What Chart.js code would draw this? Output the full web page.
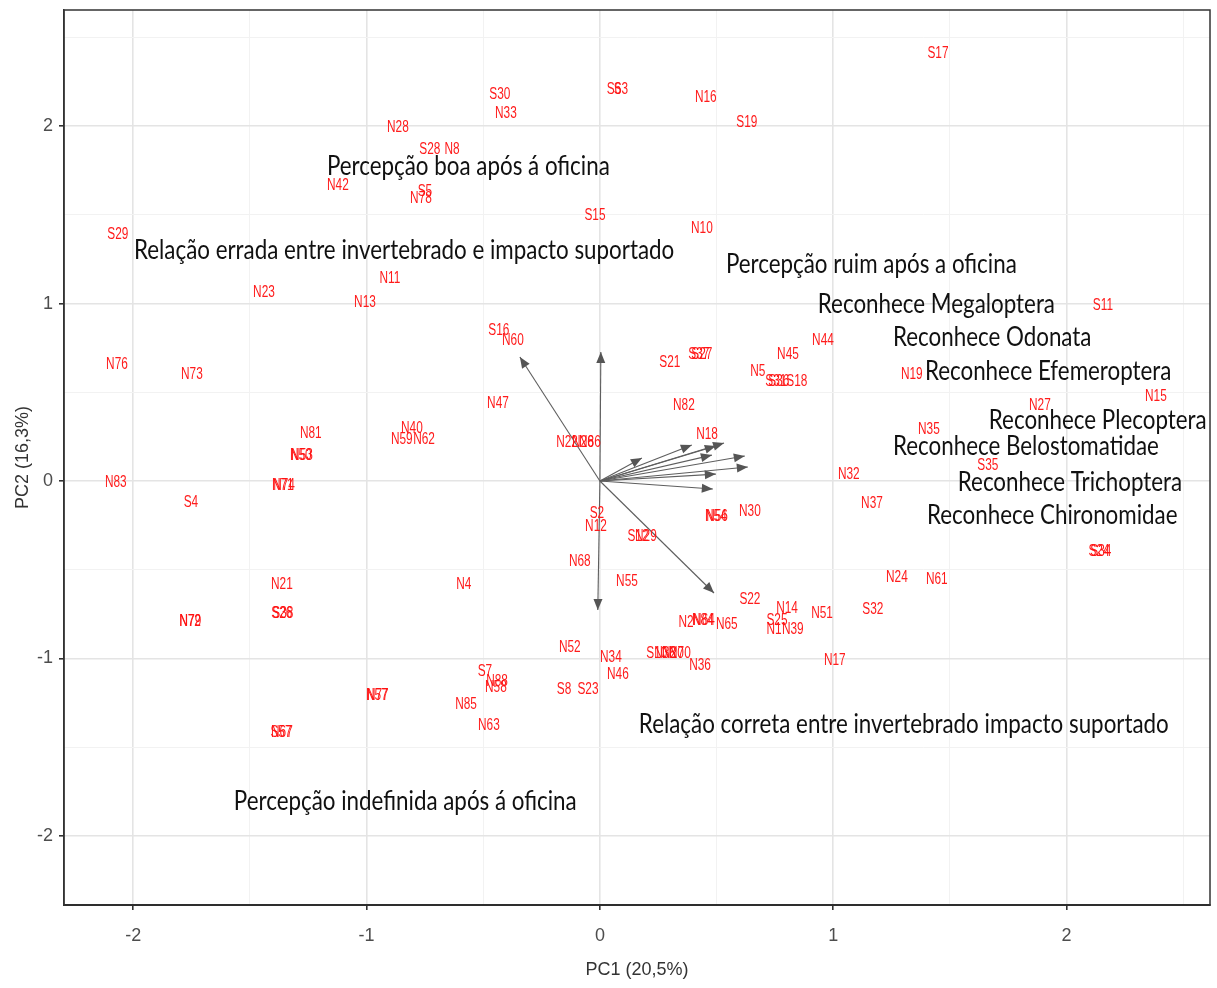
<!DOCTYPE html>
<html><head><meta charset="utf-8">
<script src="https://cdn.jsdelivr.net/npm/chart.js@4.4.0/dist/chart.umd.min.js"></script>
<style>html,body{margin:0;padding:0;background:#fff;}#wrap{width:1217px;height:988px;}</style>
</head><body><div id="wrap"><canvas id="c" width="1217" height="988"></canvas></div>
<script>
// ---- data ----
const pointNames = ["S17","S30","N33","S6","S3","N16","S19","N28","S28","N8","N42","S5","N78","S15","N10","S29","N11","N23","N13","S11",
"S16","N60","N44","N76","N73","S21","S27","S37","N45","N5","S31","S36","S18","N19","N15","N47","N82","N27","N81","N40",
"N59","N62","N50","N53","N22","N26","N86","N18","N35","S35","N32","N83","N71","N74","S4","N37","N54","N56","N30","S2",
"N12","S12","N29","N68","N55","N4","N24","N61","S24","S34","N21","N72","N79","S26","S38","S22","N14","N51","S32","S25",
"N1","N39","N2","N84","N64","N65","N52","N34","S10","N38","N20","N70","N36","N17","S7","N88","N58","N46","S8","S23",
"N57","N77","N85","N63","S57","N67"];
const pc1 = [1.449,-0.429,-0.403,0.060,0.090,0.454,0.630,-0.866,-0.729,-0.634,-1.123,-0.750,-0.767,-0.021,0.437,-2.066,-0.900,-1.440,-1.007,2.156,
-0.433,-0.373,0.956,-2.070,-1.749,0.300,0.437,0.424,0.806,0.677,0.754,0.767,0.844,1.337,2.383,-0.437,0.360,1.886,-1.239,-0.806,
-0.849,-0.754,-1.282,-1.277,-0.141,-0.073,-0.043,0.459,1.410,1.663,1.067,-2.075,-1.359,-1.354,-1.753,1.166,0.497,0.502,0.643,-0.013,
-0.017,0.163,0.197,-0.086,0.116,-0.583,1.273,1.444,2.139,2.147,-1.363,-1.757,-1.755,-1.363,-1.359,0.643,0.802,0.952,1.170,0.759,
0.746,0.827,0.369,0.441,0.446,0.544,-0.129,0.047,0.244,0.279,0.313,0.343,0.429,1.007,-0.493,-0.441,-0.446,0.077,-0.154,-0.051,
-0.956,-0.952,-0.574,-0.476,-1.367,-1.363];
const pc2 = [2.406,2.180,2.073,2.208,2.208,2.163,2.017,1.989,1.870,1.865,1.662,1.628,1.589,1.493,1.420,1.386,1.138,1.059,1.008,0.986,
0.845,0.789,0.794,0.654,0.597,0.670,0.710,0.710,0.710,0.614,0.558,0.558,0.563,0.597,0.473,0.434,0.423,0.423,0.265,0.293,
0.231,0.231,0.146,0.146,0.214,0.214,0.214,0.259,0.287,0.085,0.034,-0.011,-0.028,-0.028,-0.124,-0.130,-0.203,-0.203,-0.175,-0.186,
-0.259,-0.315,-0.315,-0.456,-0.569,-0.586,-0.546,-0.558,-0.400,-0.400,-0.586,-0.794,-0.794,-0.749,-0.749,-0.670,-0.721,-0.749,-0.727,-0.789,
-0.839,-0.839,-0.800,-0.789,-0.789,-0.811,-0.941,-0.997,-0.975,-0.975,-0.975,-0.975,-1.042,-1.014,-1.076,-1.132,-1.166,-1.093,-1.177,-1.177,
-1.211,-1.211,-1.262,-1.380,-1.420,-1.420];
// loading vectors (arrow tips, drawn from the origin)
const arrowX = [0.004,-0.009,-0.343,0.489,0.180,0.394,0.532,0.497,0.480,0.621,0.634,0.497,0.484];
const arrowY = [0.727,-0.727,0.699,-0.631,0.130,0.203,0.214,0.197,0.146,0.141,0.079,0.039,-0.045];
// annotation texts and their anchor (left edge, vertical centre) in data units
const noteTexts = ["Percepção boa após á oficina","Relação errada entre invertebrado e impacto suportado","Percepção ruim após a oficina",
"Reconhece Megaloptera","Reconhece Odonata","Reconhece Efemeroptera","Reconhece Plecoptera","Reconhece Belostomatidae",
"Reconhece Trichoptera","Reconhece Chironomidae","Relação correta entre invertebrado impacto suportado","Percepção indefinida após á oficina"];
const noteX = [-1.170,-1.997,0.540,0.934,1.256,1.393,1.667,1.256,1.534,1.402,0.167,-1.569];
const noteY = [1.769,1.296,1.217,0.994,0.808,0.614,0.338,0.192,-0.011,-0.197,-1.372,-1.807];
const xTickLabels = [-2,-1,0,1,2];
const yTickLabels = [-2,-1,0,1,2];
const gridSteps = [-2.5,-2,-1.5,-1,-0.5,0,0.5,1,1.5,2,2.5];
const xTitle = "PC1 (20,5%)";
const yTitle = "PC2 (16,3%)";

// ---- chart ----
const datasets = [{
  label: 'obs', type: 'scatter',
  data: pc1.map((v,i)=>({x:v,y:pc2[i]})),
  pointRadius: 0, pointHoverRadius: 0
}];
arrowX.forEach((ax,i)=>{
  datasets.push({label:'v'+i, type:'line', data:[{x:0,y:0},{x:ax,y:arrowY[i]}],
    borderColor:'#5e5e5e', borderWidth:1.1, pointRadius:0, fill:false, tension:0});
});

const drawPlugin = {
  id:'biplot',
  afterDatasetsDraw(chart){
    const ctx = chart.ctx, xs = chart.scales.x, ys = chart.scales.y;
    // arrowheads
    for (let d=1; d<chart.data.datasets.length; d++){
      const pts = chart.getDatasetMeta(d).data;
      const x0=pts[0].x,y0=pts[0].y,x1=pts[1].x,y1=pts[1].y;
      const a=Math.atan2(y1-y0,x1-x0), L=11, W=4.5;
      ctx.save(); ctx.fillStyle='#555';
      ctx.beginPath(); ctx.moveTo(x1,y1);
      ctx.lineTo(x1-L*Math.cos(a)+W*Math.sin(a), y1-L*Math.sin(a)-W*Math.cos(a));
      ctx.lineTo(x1-L*Math.cos(a)-W*Math.sin(a), y1-L*Math.sin(a)+W*Math.cos(a));
      ctx.closePath(); ctx.fill(); ctx.restore();
    }
    // observation labels
    ctx.save();
    ctx.font = '16px "Liberation Sans", Arial, sans-serif';
    ctx.fillStyle = 'rgba(255,16,16,0.95)';
    ctx.textAlign='center'; ctx.textBaseline='middle';
    pointNames.forEach((n,i)=>{
      const px = xs.getPixelForValue(pc1[i]), py = ys.getPixelForValue(pc2[i]);
      ctx.save(); ctx.translate(px,py); ctx.scale(0.74,1); ctx.fillText(n,0,0); ctx.restore();
    });
    ctx.restore();
    // annotations
    ctx.save();
    ctx.font = '26px Lato, "Open Sans", sans-serif';
    ctx.fillStyle = '#111';
    ctx.textAlign='left'; ctx.textBaseline='middle';
    noteTexts.forEach((t,i)=>{
      const px = xs.getPixelForValue(noteX[i]), py = ys.getPixelForValue(noteY[i]);
      ctx.save(); ctx.translate(px,py); ctx.scale(0.86,1); ctx.fillText(t,0,0); ctx.restore();
    });
    ctx.restore();
  },
  afterDraw(chart){
    const ctx=chart.ctx, a=chart.chartArea;
    ctx.save(); ctx.strokeStyle='#333'; ctx.lineWidth=1.5;
    ctx.strokeRect(a.left,a.top,a.right-a.left,a.bottom-a.top);
    ctx.restore();
  },
  beforeDraw(chart){
    const ctx=chart.ctx; ctx.save(); ctx.fillStyle='#fff'; ctx.fillRect(0,0,chart.width,chart.height); ctx.restore();
  }
};

const gridOpts = {
  color: c => Number.isInteger(c.tick && c.tick.value) ? '#e4e4e4' : '#f2f2f2',
  lineWidth: c => Number.isInteger(c.tick && c.tick.value) ? 1.6 : 1,
  tickColor: c => Number.isInteger(c.tick && c.tick.value) ? '#333' : 'rgba(0,0,0,0)',
  tickLength: 5, drawTicks: true
};

new Chart(document.getElementById('c'), {
  data: { datasets },
  options: {
    responsive:false, animation:false,
    layout:{ padding:{ top:10, right:7, left:0, bottom:0 } },
    plugins:{ legend:{display:false}, tooltip:{enabled:false} },
    scales:{
      x:{ type:'linear', min:-2.297, max:2.615,
        afterBuildTicks: s => { s.ticks = gridSteps.filter(v=>v>=s.min&&v<=s.max).map(v=>({value:v})); },
        afterFit: s => { s.height = 83; s.paddingLeft = 0; s.paddingRight = 0; },
        ticks:{ autoSkip:false, maxRotation:0, padding:15, color:'#4d4d4d',
          font:{ family:'"Liberation Sans", Arial, sans-serif', size:18 },
          callback: v => xTickLabels.includes(v) ? String(v) : '' },
        grid: gridOpts,
        border:{ display:true, color:'#222', width:2 },
        title:{ display:true, text:xTitle, color:'#333', padding:{top:0,bottom:7},
          font:{ family:'"Liberation Sans", Arial, sans-serif', size:18 } }
      },
      y:{ type:'linear', min:-2.389, max:2.654,
        afterBuildTicks: s => { s.ticks = gridSteps.filter(v=>v>=s.min&&v<=s.max).map(v=>({value:v})); },
        afterFit: s => { s.width = 64; s.paddingTop = 0; s.paddingBottom = 0; },
        ticks:{ autoSkip:false, padding:6, color:'#4d4d4d',
          font:{ family:'"Liberation Sans", Arial, sans-serif', size:18 },
          callback: v => yTickLabels.includes(v) ? String(v) : '' },
        grid: gridOpts,
        border:{ display:true, color:'#333', width:1.5 },
        title:{ display:true, text:yTitle, color:'#333', padding:{top:12,bottom:0},
          font:{ family:'"Liberation Sans", Arial, sans-serif', size:18 } }
      }
    }
  },
  plugins:[drawPlugin]
});
</script></body></html>
